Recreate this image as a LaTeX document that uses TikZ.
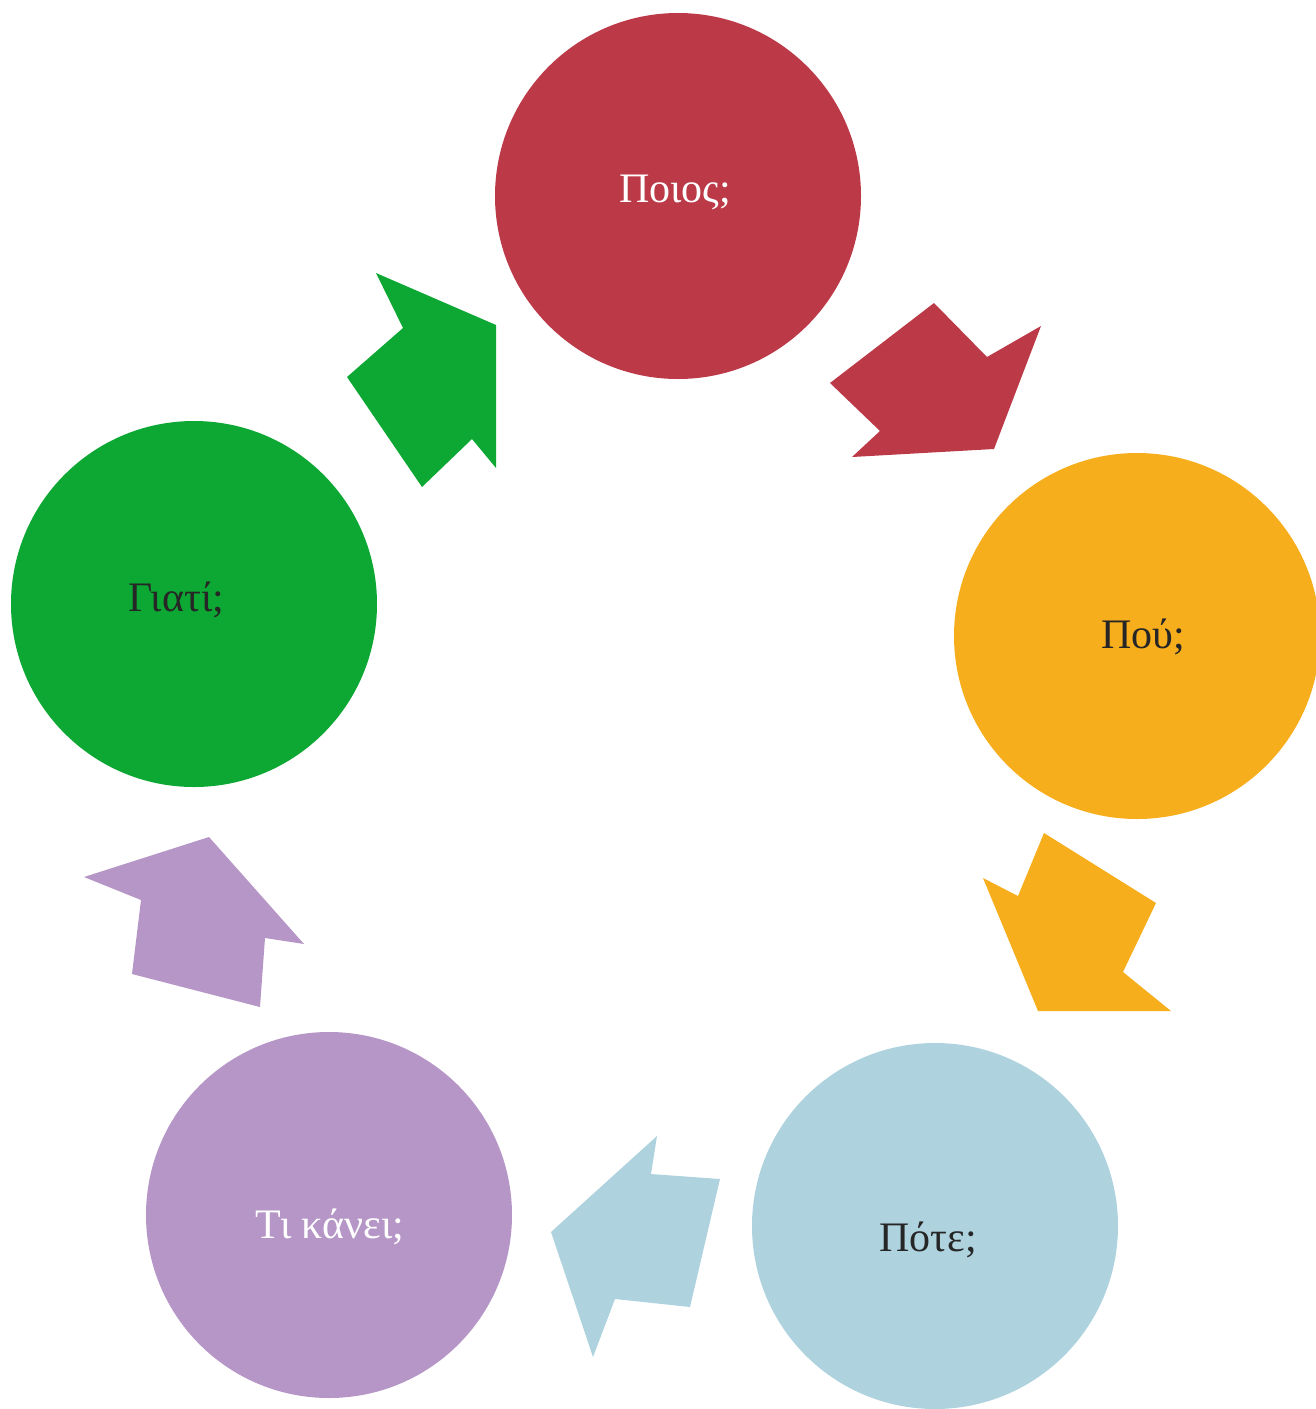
\documentclass[tikz,border=0pt]{standalone}
\usepackage{fontspec}
\setmainfont{Liberation Serif}
\definecolor{cred}{HTML}{BC3A48}
\definecolor{corange}{HTML}{F7AE1D}
\definecolor{cblue}{HTML}{AED3DE}
\definecolor{cpurple}{HTML}{B596C6}
\definecolor{cgreen}{HTML}{0CA833}
\tikzset{
  circ/.style={circle, minimum size=366pt, inner sep=0pt},
  lbl/.style={anchor=base, font=\fontsize{42}{48}\selectfont, inner sep=0pt},
}
\begin{document}
\begin{tikzpicture}[x=1pt,y=-1pt]
\useasboundingbox (0,0) rectangle (1316,1409);
\clip (0,0) rectangle (1316,1409);
% circles
\node[circ, fill=cred] (c1) at (678,196) {};
\node[circ, fill=corange] (c2) at (1137,636) {};
\node[circ, fill=cblue] (c3) at (935,1226) {};
\node[circ, fill=cpurple] (c4) at (329,1215) {};
\node[circ, fill=cgreen] (c5) at (194,604) {};
% labels
\node[lbl, text=white] (t1) at (675,202) {Ποιος;};
\node[lbl, text=black!85] (t2) at (1143,648) {Πού;};
\node[lbl, text=black!85] (t3) at (928,1251) {Πότε;};
\node[lbl, text=white] (t4) at (330,1238) {Τι κάνει;};
\node[lbl, text=black!85] (t5) at (176,611) {Γιατί;};
% arrows
\fill[cred] (830,383) -- (934,303) -- (987,357) -- (1041,326) -- (994,449) -- (852,457) -- (880,431) -- cycle;
\fill[corange] (1044,833) -- (1156,903) -- (1123,972) -- (1171,1011) -- (1038,1011) -- (983,878) -- (1018,896) -- cycle;
\fill[cblue] (657,1136) -- (651,1174) -- (720,1179) -- (690,1307) -- (615,1299) -- (593,1357) -- (551,1232) -- cycle;
\fill[cpurple] (209,837) -- (304,944) -- (265,938) -- (260,1007) -- (132,974) -- (141,900) -- (84,877) -- cycle;
\fill[cgreen] (376,273) -- (496,325) -- (496,468) -- (472,439) -- (422,487) -- (347,377) -- (403,328) -- cycle;
\end{tikzpicture}
\end{document}
